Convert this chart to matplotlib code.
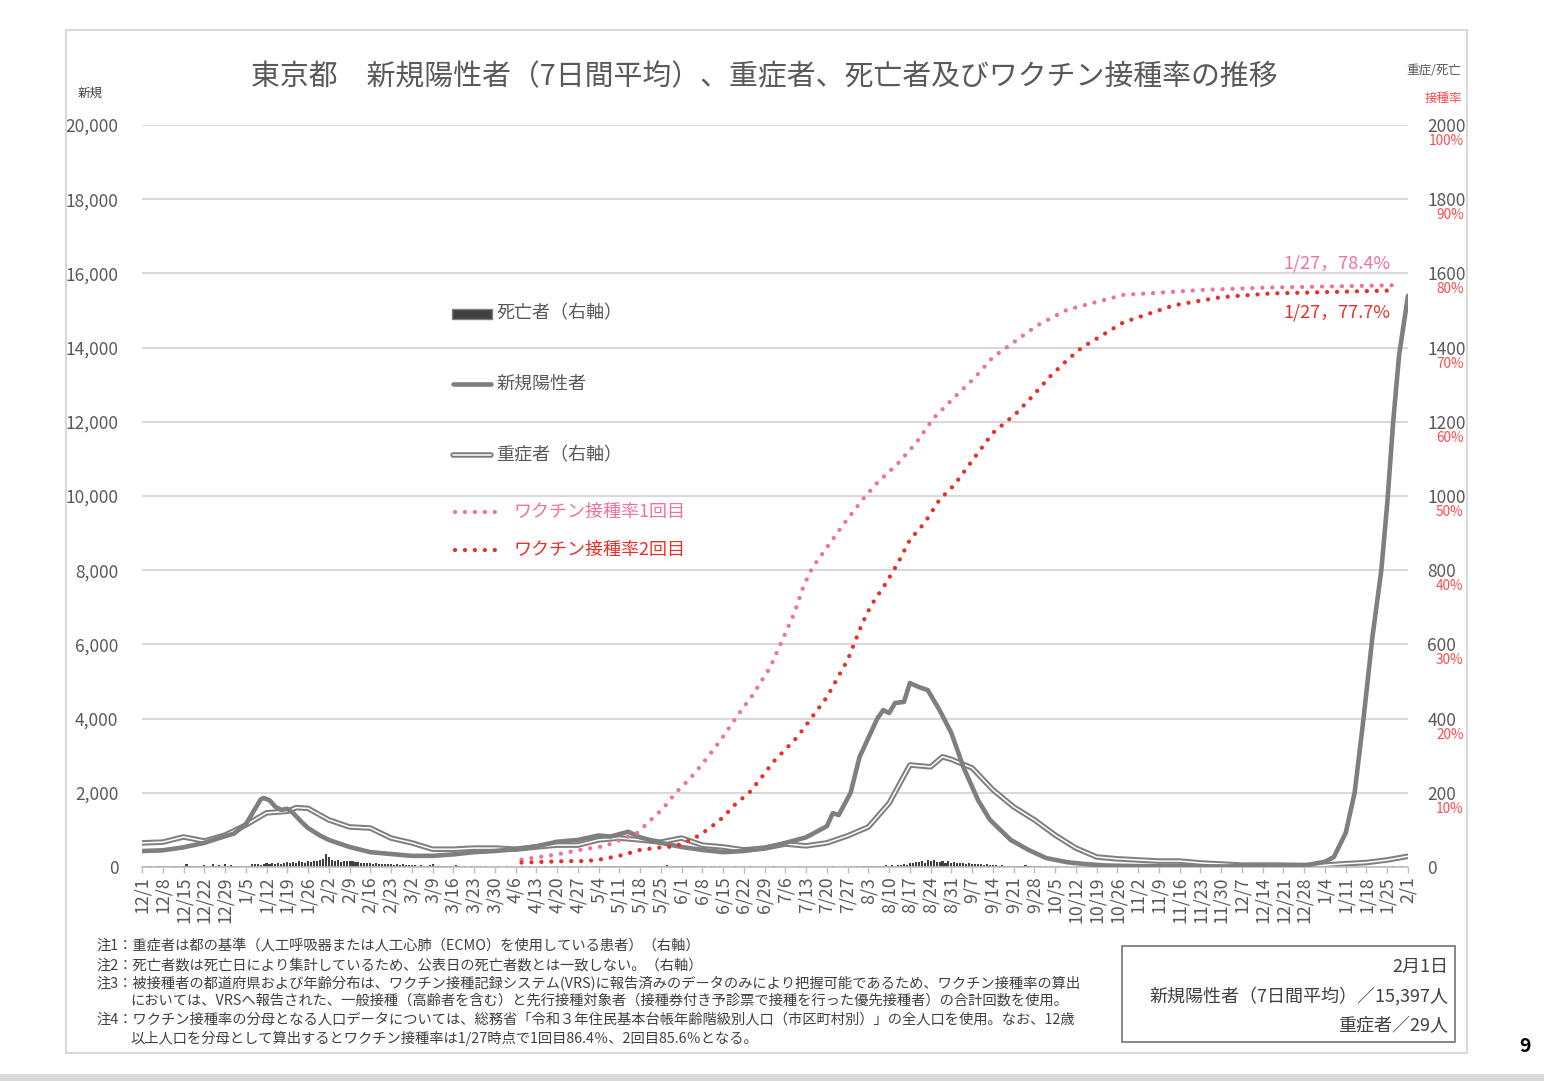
import numpy as np
import pandas as pd
import matplotlib
matplotlib.use("Agg")
import matplotlib.pyplot as plt
from matplotlib.lines import Line2D
from matplotlib.patches import Rectangle
import matplotlib.patheffects as pe

plt.rcParams['font.family'] = ['Noto Sans CJK JP', 'DejaVu Sans']

# ----------------------------
# DATA
# ----------------------------
# new positives, 7-day average (left axis)
pos_dates = ["2020-12-01", "2020-12-08", "2020-12-15", "2020-12-22", "2020-12-29",
             "2021-01-01", "2021-01-05", "2021-01-08", "2021-01-10", "2021-01-11",
             "2021-01-13", "2021-01-15", "2021-01-17", "2021-01-19", "2021-01-21",
             "2021-01-24", "2021-01-26", "2021-01-30", "2021-02-02", "2021-02-09",
             "2021-02-16", "2021-02-23", "2021-03-02", "2021-03-09", "2021-03-16",
             "2021-03-23", "2021-03-30", "2021-04-06", "2021-04-13", "2021-04-20",
             "2021-04-27", "2021-05-04", "2021-05-08", "2021-05-14", "2021-05-18",
             "2021-05-25", "2021-06-01", "2021-06-08", "2021-06-15", "2021-06-22",
             "2021-06-29", "2021-07-06", "2021-07-13", "2021-07-20", "2021-07-22",
             "2021-07-24", "2021-07-28", "2021-07-31", "2021-08-06", "2021-08-08",
             "2021-08-10", "2021-08-12", "2021-08-15", "2021-08-17", "2021-08-20",
             "2021-08-23", "2021-08-27", "2021-08-31", "2021-09-04", "2021-09-09",
             "2021-09-13", "2021-09-20", "2021-09-26", "2021-10-02", "2021-10-09",
             "2021-10-15", "2021-10-22", "2021-11-01", "2021-12-01", "2021-12-28",
             "2022-01-04", "2022-01-07", "2022-01-11", "2022-01-14", "2022-01-17",
             "2022-01-20", "2022-01-23", "2022-01-25", "2022-01-27", "2022-01-29",
             "2022-02-01"]
pos_vals = [430, 450, 530, 650, 830,
            900, 1150, 1550, 1820, 1860,
            1800, 1620, 1540, 1570, 1450,
            1200, 1050, 850, 730, 540,
            400, 350, 300, 300, 340,
            400, 430, 480, 560, 680,
            730, 850, 820, 950, 800,
            650, 540, 460, 400, 430,
            510, 650, 800, 1100, 1450,
            1400, 2000, 2960, 4000, 4230,
            4150, 4420, 4450, 4960, 4850,
            4770, 4230, 3610, 2700, 1800,
            1270, 730, 460, 240, 130,
            80, 40, 25, 15, 40,
            140, 270, 920, 2000, 4000,
            6200, 8000, 9800, 12000, 13800,
            15397]

# severe cases (right axis)
sev_dates = ["2020-12-01", "2020-12-08", "2020-12-15", "2020-12-22", "2020-12-29",
             "2021-01-05", "2021-01-12", "2021-01-19", "2021-01-22", "2021-01-26",
             "2021-02-02", "2021-02-09", "2021-02-16", "2021-02-23", "2021-03-02",
             "2021-03-09", "2021-03-16", "2021-03-23", "2021-03-30", "2021-04-06",
             "2021-04-13", "2021-04-20", "2021-04-27", "2021-05-04", "2021-05-11",
             "2021-05-18", "2021-05-25", "2021-06-01", "2021-06-08", "2021-06-15",
             "2021-06-22", "2021-06-29", "2021-07-06", "2021-07-13", "2021-07-20",
             "2021-07-27", "2021-08-03", "2021-08-10", "2021-08-17", "2021-08-24",
             "2021-08-28", "2021-08-31", "2021-09-07", "2021-09-14", "2021-09-21",
             "2021-09-28", "2021-10-05", "2021-10-12", "2021-10-19", "2021-10-26",
             "2021-11-02", "2021-11-09", "2021-11-16", "2021-11-23", "2021-11-30",
             "2021-12-07", "2021-12-14", "2021-12-21", "2021-12-28", "2022-01-04",
             "2022-01-11", "2022-01-18", "2022-01-25", "2022-02-01"]
sev_vals = [65, 67, 81, 70, 86,
            113, 146, 150, 160, 158,
            127, 108, 105, 78, 65,
            48, 48, 51, 51, 48,
            54, 59, 59, 73, 78,
            73, 67, 78, 59, 54,
            46, 51, 62, 57, 65,
            84, 108, 172, 275, 270,
            297, 290, 267, 208, 162,
            127, 86, 51, 27, 22,
            19, 16, 16, 11, 8,
            5, 5, 5, 4, 5,
            9, 12, 19, 29]

# deaths by date of death (right axis), one row per week from 2020-12-01
deaths_start = "2020-12-01"
deaths_weeks = [
    [2, 1, 3, 2, 1, 2, 3], [2, 3, 1, 2, 3, 2, 1], [3, 7, 2, 3, 2, 3, 2],
    [6, 3, 2, 7, 3, 6, 2], [7, 3, 6, 2, 3, 4, 3], [4, 3, 7, 9, 8, 6, 9],
    [10, 8, 11, 9, 12, 9, 10], [13, 11, 14, 12, 15, 13, 12], [15, 14, 17, 16, 18, 22, 36],
    [26, 20, 16, 18, 14, 15, 17], [16, 15, 13, 14, 12, 11, 10], [11, 9, 10, 8, 9, 7, 8],
    [7, 6, 8, 5, 7, 6, 5], [5, 6, 4, 5, 3, 4, 5], [7, 3, 2, 4, 3, 2, 3],
    [2, 6, 2, 1, 2, 1, 2], [1, 2, 4, 1, 2, 1, 1], [1, 2, 1, 1, 2, 1, 1],
    [1, 1, 2, 1, 1, 2, 1], [1, 2, 1, 2, 1, 1, 2], [2, 1, 2, 1, 2, 2, 1],
    [2, 2, 1, 2, 1, 2, 2], [2, 3, 2, 2, 3, 2, 2], [3, 2, 3, 4, 2, 3, 2],
    [2, 3, 2, 4, 2, 3, 2], [3, 2, 6, 3, 2, 3, 2], [2, 3, 2, 4, 2, 2, 3],
    [2, 3, 1, 2, 2, 1, 2], [1, 2, 1, 1, 2, 1, 1], [1, 1, 2, 1, 1, 1, 1],
    [1, 1, 1, 2, 1, 1, 1], [1, 1, 1, 1, 1, 2, 1], [1, 1, 1, 1, 1, 1, 1],
    [1, 1, 2, 1, 1, 1, 2], [1, 2, 1, 2, 1, 2, 2], [2, 3, 2, 4, 3, 2, 5],
    [3, 5, 4, 6, 5, 7, 6], [12, 10, 14, 13, 16, 12, 18], [15, 19, 14, 13, 17, 12, 15],
    [12, 14, 11, 10, 12, 9, 10], [8, 9, 7, 8, 6, 7, 6], [5, 6, 4, 5, 4, 3, 4],
    [3, 4, 2, 3, 5, 2, 3], [2, 3, 2, 1, 2, 1, 2], [1, 2, 1, 1, 1, 1, 1],
    [1, 0, 1, 1, 0, 1, 0], [0, 1, 0, 0, 1, 0, 0], [0, 0, 1, 0, 0, 0, 0],
    [0, 0, 0, 0, 0, 0, 0], [0, 0, 0, 0, 0, 0, 0], [0, 0, 0, 0, 0, 0, 0],
    [0, 0, 0, 0, 0, 0, 0], [0, 0, 0, 0, 0, 0, 0], [0, 0, 0, 0, 0, 0, 0],
    [0, 0, 0, 0, 0, 0, 0], [0, 0, 0, 0, 0, 0, 0], [0, 0, 0, 0, 0, 0, 0],
    [0, 0, 0, 0, 0, 0, 0], [0, 0, 0, 1, 0, 0, 1], [0, 1, 1, 0, 1, 1, 1],
    [1, 1, 2, 1, 1, 2, 1],
]

# vaccination rate 1st dose (%)
vac1_dates = ["2021-04-08", "2021-04-20", "2021-04-29", "2021-05-06", "2021-05-11",
              "2021-05-17", "2021-05-21", "2021-05-26", "2021-05-30", "2021-06-04",
              "2021-06-08", "2021-06-14", "2021-06-20", "2021-06-25", "2021-07-01",
              "2021-07-05", "2021-07-09", "2021-07-12", "2021-07-15", "2021-07-19",
              "2021-07-26", "2021-08-01", "2021-08-06", "2021-08-13", "2021-08-19",
              "2021-08-25", "2021-09-01", "2021-09-08", "2021-09-14", "2021-09-22",
              "2021-09-29", "2021-10-09", "2021-10-28", "2021-11-25", "2021-12-17",
              "2022-01-27"]
vac1_vals = [1.0, 1.7, 2.4, 2.8, 3.6,
             4.6, 6.1, 8.0, 10.0, 12.0,
             13.9, 17.0, 20.5, 23.2, 27.0,
             30.6, 34.2, 37.7, 40.3, 42.5,
             46.4, 49.5, 51.8, 54.4, 57.1,
             60.5, 63.3, 66.0, 68.7, 71.0,
             73.0, 75.1, 77.1, 77.8, 78.1,
             78.4]

# vaccination rate 2nd dose (%)
vac2_dates = ["2021-04-08", "2021-04-24", "2021-04-30", "2021-05-06", "2021-05-12",
              "2021-05-18", "2021-05-24", "2021-05-30", "2021-06-05", "2021-06-10",
              "2021-06-15", "2021-06-19", "2021-06-24", "2021-06-28", "2021-07-02",
              "2021-07-10", "2021-07-20", "2021-07-27", "2021-08-01", "2021-08-04",
              "2021-08-09", "2021-08-13", "2021-08-17", "2021-08-22", "2021-08-27",
              "2021-09-01", "2021-09-08", "2021-09-14", "2021-09-22", "2021-09-27",
              "2021-10-03", "2021-10-09", "2021-10-14", "2021-10-28", "2021-11-14",
              "2021-11-30", "2021-12-17", "2022-01-27"]
vac2_vals = [0.6, 0.8, 0.8, 1.1, 1.6,
             2.3, 2.6, 2.8, 3.8, 5.1,
             6.7, 8.4, 10.1, 12.1, 14.2,
             17.5, 22.9, 27.9, 32.9, 35.3,
             38.3, 41.0, 44.1, 46.4, 49.5,
             51.5, 55.3, 58.5, 61.2, 63.3,
             66.0, 68.3, 70.0, 73.4, 75.7,
             76.8, 77.3, 77.7]

tick_dates = pd.date_range("2020-12-01", "2022-02-01", freq="7D")
left_ticks = list(range(0, 20001, 2000))
right_ticks = list(range(0, 2001, 200))
pct_ticks = list(range(10, 101, 10))

notes = [
    "注1：重症者は都の基準（人工呼吸器または人工心肺（ECMO）を使用している患者）（右軸）",
    "注2：死亡者数は死亡日により集計しているため、公表日の死亡者数とは一致しない。（右軸）",
    "注3：被接種者の都道府県および年齢分布は、ワクチン接種記録システム(VRS)に報告済みのデータのみにより把握可能であるため、ワクチン接種率の算出",
    "においては、VRSへ報告された、一般接種（高齢者を含む）と先行接種対象者（接種券付き予診票で接種を行った優先接種者）の合計回数を使用。",
    "注4：ワクチン接種率の分母となる人口データについては、総務省「令和３年住民基本台帳年齢階級別人口（市区町村別）」の全人口を使用。なお、12歳",
    "以上人口を分母として算出するとワクチン接種率は1/27時点で1回目86.4％、2回目85.6％となる。",
]

# ----------------------------
# STYLE
# ----------------------------
W, H = 1544, 1081
GRAY = "#7f7f7f"
TXT = "#595959"
PINK = "#f0719f"
RED = "#e8302a"
PCT_RED = "#ff4b4b"


def fx(x):
    return x / W


def fy(y):
    return 1 - y / H


fig = plt.figure(figsize=(W / 100, H / 100), dpi=100)
rect = [fx(142), fy(867), (1408 - 142) / W, (867 - 125) / H]

# bottom axes: grid, right axis, deaths, severe
axR = fig.add_axes(rect)
ax = fig.add_axes(rect, sharex=axR)
axV = fig.add_axes(rect, sharex=axR)
ax.patch.set_visible(False)
axV.patch.set_visible(False)

death_dates = pd.date_range(deaths_start, periods=len(deaths_weeks) * 7, freq="D")
deaths = [d for week in deaths_weeks for d in week]
axR.bar(death_dates, deaths, width=0.7, color="#404040", linewidth=0)

axR.plot(pd.to_datetime(sev_dates), sev_vals, color="white", lw=1.1,
         solid_joinstyle="round", solid_capstyle="round",
         path_effects=[pe.Stroke(linewidth=4.0, foreground=GRAY), pe.Normal()])

ax.plot(pd.to_datetime(pos_dates), pos_vals, color=GRAY, lw=3.3,
        solid_joinstyle="round", solid_capstyle="round")

axV.plot(pd.to_datetime(vac1_dates), vac1_vals, color=PINK, lw=3.1,
         linestyle=(0, (0.01, 2.3)), dash_capstyle="round")
axV.plot(pd.to_datetime(vac2_dates), vac2_vals, color=RED, lw=3.1,
         linestyle=(0, (0.01, 2.3)), dash_capstyle="round")

# axes limits / ticks
axR.set_xlim(pd.Timestamp("2020-12-01"), pd.Timestamp("2022-02-01"))
axR.set_ylim(0, 2000)
ax.set_ylim(0, 20000)
axV.set_ylim(0, 100)

axR.set_xticks(tick_dates)
axR.set_xticklabels([f"{d.month}/{d.day}" for d in tick_dates], rotation=90,
                    fontsize=12.8, color=TXT)
axR.tick_params(axis="x", length=4, width=1, color="#bfbfbf", pad=3)

axR.yaxis.tick_right()
axR.set_yticks(right_ticks)
axR.set_yticklabels([str(v) for v in right_ticks], fontsize=12.5, color=TXT, ha="left")
axR.tick_params(axis="y", length=0, pad=14)
axR.grid(axis="y", color="#d9d9d9", lw=1.5)
axR.set_axisbelow(True)

ax.set_yticks(left_ticks)
ax.set_yticklabels([f"{v:,}" for v in left_ticks], fontsize=12.5, color=TXT)
ax.tick_params(axis="y", length=0, pad=17)
ax.tick_params(axis="x", bottom=False, labelbottom=False)
axV.tick_params(axis="both", left=False, bottom=False, labelleft=False, labelbottom=False)

for a in (axR, ax, axV):
    for s in a.spines.values():
        s.set_visible(False)
axR.spines["bottom"].set_visible(True)
axR.spines["bottom"].set_color("#bfbfbf")
axR.spines["bottom"].set_linewidth(1.2)

# percent labels under the right tick numbers
for p in pct_ticks:
    axV.annotate(f"{p}%", xy=(1, p), xycoords=("axes fraction", "data"),
                 xytext=(40, -11.5), textcoords="offset points",
                 ha="right", va="center", fontsize=9.8, color=PCT_RED)

# end labels of vaccination curves
axV.annotate("1/27，78.4%", xy=(pd.Timestamp("2022-01-27"), vac1_vals[-1]),
             xytext=(-2, 16), textcoords="offset points", ha="right", va="center",
             fontsize=13, color=PINK)
axV.annotate("1/27，77.7%", xy=(pd.Timestamp("2022-01-27"), vac2_vals[-1]),
             xytext=(-2, -16), textcoords="offset points", ha="right", va="center",
             fontsize=13, color=RED)

# ----------------------------
# TEXTS
# ----------------------------
fig.text(fx(764), fy(77), "東京都　新規陽性者（7日間平均）、重症者、死亡者及びワクチン接種率の推移",
         ha="center", va="center", fontsize=20.8, color=TXT)
fig.text(fx(90), fy(93), "新規", ha="center", va="center", fontsize=9, color="#404040")
fig.text(fx(1434), fy(71), "重症/死亡", ha="center", va="center", fontsize=9, color=TXT)
fig.text(fx(1443), fy(98), "接種率", ha="center", va="center", fontsize=9, color=PCT_RED)

# legend (drawn by hand, as in the original)
fig.add_artist(Rectangle((fx(452), fy(319)), fx(40), 10 / H, transform=fig.transFigure,
                         facecolor="#404040", edgecolor=GRAY, lw=1))
fig.text(fx(496), fy(313), "死亡者（右軸）", ha="left", va="center", fontsize=13, color=TXT)

fig.add_artist(Line2D([fx(453), fx(491)], [fy(384), fy(384)], transform=fig.transFigure,
                      color=GRAY, lw=3.3, solid_capstyle="round"))
fig.text(fx(496), fy(384), "新規陽性者", ha="left", va="center", fontsize=13, color=TXT)

fig.add_artist(Line2D([fx(453), fx(491)], [fy(455), fy(455)], transform=fig.transFigure,
                      color="white", lw=1.1, solid_capstyle="round",
                      path_effects=[pe.Stroke(linewidth=4.0, foreground=GRAY), pe.Normal()]))
fig.text(fx(496), fy(455), "重症者（右軸）", ha="left", va="center", fontsize=13, color=TXT)

for yy, col, lab in [(512, PINK, "ワクチン接種率1回目"), (550, RED, "ワクチン接種率2回目")]:
    fig.add_artist(Line2D([fx(455), fx(500)], [fy(yy), fy(yy)], transform=fig.transFigure,
                          color=col, lw=3.1, linestyle=(0, (0.01, 2.3)),
                          dash_capstyle="round"))
    fig.text(fx(514), fy(yy), lab, ha="left", va="center", fontsize=13, color=col)

# notes
note_pos = [(96, 946), (96, 965), (96, 984), (130, 1000), (96, 1019), (130, 1038)]
for (nx, ny), line in zip(note_pos, notes):
    fig.text(fx(nx), fy(ny), line, ha="left", va="center", fontsize=10.3, color="#404040")

# summary box
fig.add_artist(Rectangle((fx(1122), fy(1042)), fx(1455 - 1122), (1042 - 946) / H,
                         transform=fig.transFigure, fill=False, edgecolor=GRAY, lw=1.3))
fig.text(fx(1448), fy(967), "2月1日", ha="right", va="center", fontsize=13, color="#404040")
fig.text(fx(1448), fy(996), "新規陽性者（7日間平均）／15,397人", ha="right", va="center",
         fontsize=13, color="#404040")
fig.text(fx(1448), fy(1026), "重症者／29人", ha="right", va="center", fontsize=13,
         color="#404040")

# page frame
fig.add_artist(Rectangle((fx(66), fy(1053)), fx(1467 - 66), (1053 - 30) / H,
                         transform=fig.transFigure, fill=False, edgecolor="#d9d9d9", lw=1.5))
fig.add_artist(Rectangle((0, 0), 1, 7 / H, transform=fig.transFigure,
                         facecolor="#d9d9d9", edgecolor="none"))
fig.text(fx(1525), fy(1047), "9", ha="center", va="center", fontsize=14,
         fontweight="bold", color="black")

fig.savefig("out.png", dpi=100)
